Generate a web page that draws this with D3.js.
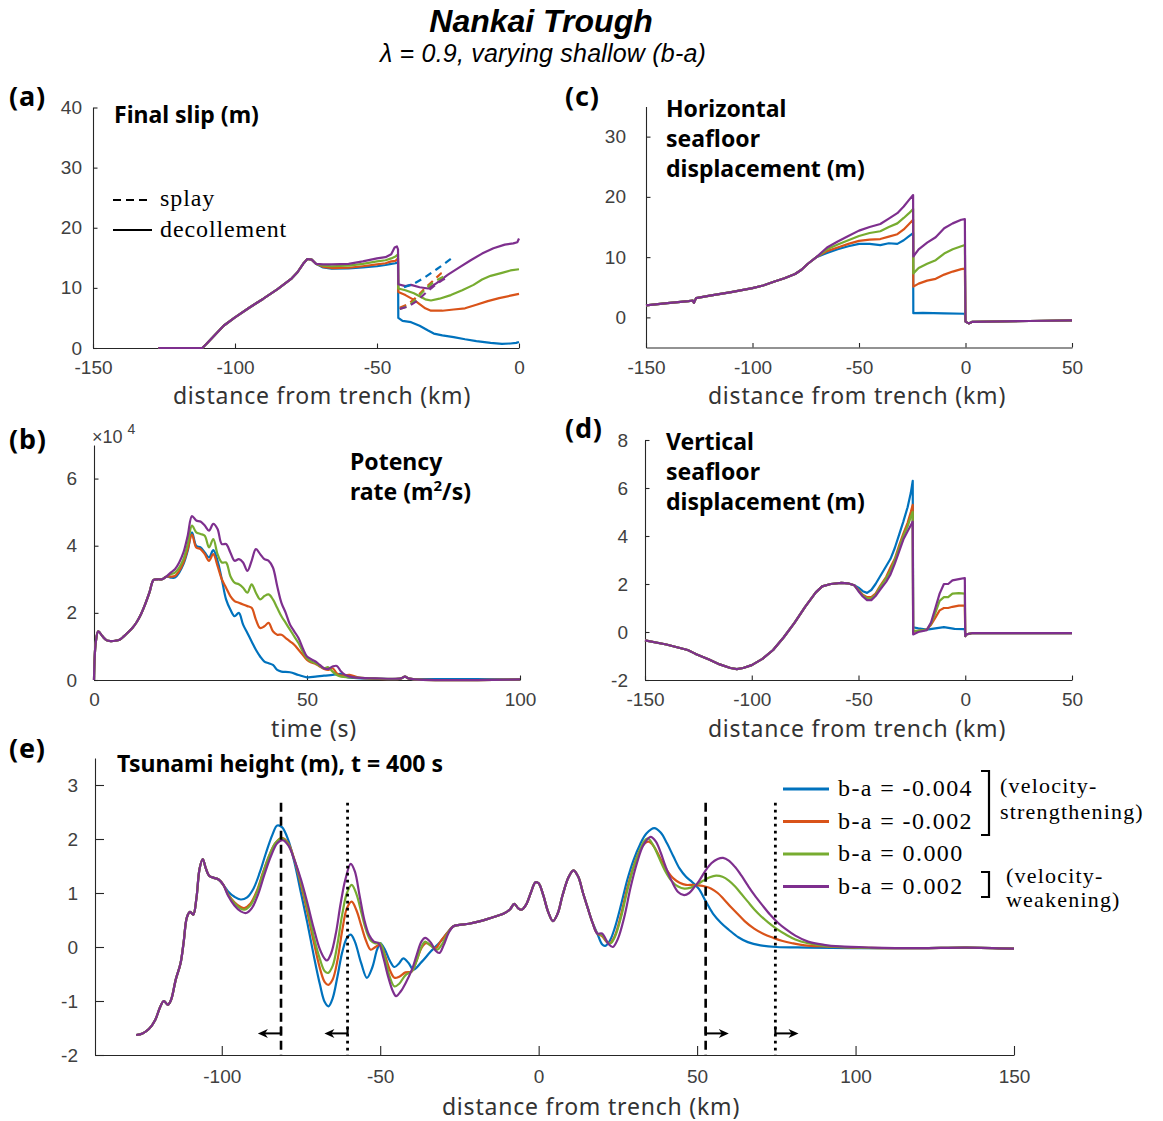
<!DOCTYPE html>
<html>
<head>
<meta charset="utf-8">
<script src="https://cdn.jsdelivr.net/npm/d3@7"></script>
<style>body{margin:0;background:#fff}</style>
</head>
<body>
<div id="fig"></div>
<script>
// ---------- data ----------
const seriesNames = ["b-a = -0.004", "b-a = -0.002", "b-a = 0.000", "b-a = 0.002"];
const colors = ["#0072BD", "#D95319", "#77AC30", "#7E2F8E"];

// (a) final slip (m) vs distance from trench (km)
const slipRise = [[-127,0],[-111.5,0],[-110,0.7],[-107,2.2],[-104,3.7],[-100,5.1],[-95,6.7],[-90,8.2],[-85,9.8],[-80,11.6],[-78,12.6],[-76,14.0],[-74.5,14.8],[-73,14.7],[-71.5,14.0]];
const slipBlue = [[-69,13.4],[-66,13.2],[-60,13.25],[-55,13.4],[-50,13.6],[-47,13.8],[-45,14.0],[-43.5,14.1],[-42.6,14.3],[-42.5,5.0],[-41,4.5],[-38,4.3],[-35,3.7],[-32,2.9],[-30,2.4],[-27,2.1],[-23,1.8],[-19,1.45],[-15,1.15],[-10,0.85],[-6,0.7],[-3,0.75],[-1,0.85],[0,1.0]];
const slipOrange = [[-69,13.5],[-66,13.3],[-60,13.35],[-55,13.6],[-50,13.9],[-47,14.1],[-45,14.4],[-43.5,14.5],[-42.6,14.9],[-42.5,9.3],[-40,8.8],[-37,8.0],[-35,7.3],[-33,6.6],[-31,6.2],[-27,6.2],[-23,6.4],[-19,6.6],[-15,7.2],[-11,7.8],[-7,8.3],[-3,8.7],[0,9.0]];
const slipGreen = [[-69,13.7],[-66,13.6],[-60,13.7],[-55,14.0],[-50,14.4],[-47,14.6],[-45,14.9],[-43.5,15.2],[-42.6,15.6],[-42.5,9.9],[-40,9.6],[-37,9.1],[-35,8.6],[-33,8.1],[-31,7.9],[-28,8.2],[-24,8.8],[-20,9.6],[-16,10.5],[-13,11.4],[-10,12.0],[-6,12.5],[-3,12.9],[0,13.1]];
const slipPurple = [[-69,13.9],[-66,13.9],[-60,14.0],[-55,14.4],[-50,14.9],[-47,15.1],[-45,15.6],[-43.8,16.7],[-43,16.9],[-42.6,16.4],[-42.5,10.6],[-40,10.3],[-38,10.5],[-35,10.1],[-32,9.9],[-29,10.8],[-25,12.2],[-21,13.4],[-17,14.6],[-13,15.7],[-9,16.6],[-5,17.2],[-2,17.4],[-0.6,17.6],[0,18.2]];
const splayBlue = [[-40.5,10.1],[-37,10.7],[-33,11.8],[-29,13.1],[-26,14.1],[-23.5,15.0]];
const splayOrange = [[-42,6.7],[-39,7.3],[-36,8.5],[-33,10.0],[-30,11.3],[-27.5,12.4],[-26.5,12.6]];
const splayGreen = [[-42,6.5],[-39,7.0],[-36,8.2],[-33,9.8],[-30,11.0],[-26,12.0],[-25,12.2]];
const splayPurple = [[-42,6.5],[-39,6.9],[-36,7.8],[-33,9.1],[-30,10.3],[-27,11.3],[-25,11.8]];

// (b) potency rate (x 10^4 m^2/s) vs time (s)
const potRise = [[0,0],[0.4,1.1],[1,1.45],[2,1.3],[3,1.18],[4,1.16],[5,1.17],[6,1.2],[7,1.3],[8,1.42],[9,1.55],[10,1.72],[11,1.95],[12,2.25],[13,2.6],[14,2.98],[15,3.0],[16,3.0],[17,3.08]];
const potBlue = [[18,3.05],[19,3.05],[20,3.2],[21,3.45],[22,3.85],[23,4.4],[24,4.0],[25,3.95],[26,3.8],[27,3.65],[28,3.87],[29,3.55],[30,3.0],[31,2.4],[32,2.1],[33,1.9],[34,2.0],[35,1.65],[36,1.4],[37,1.15],[38,0.9],[39,0.7],[40,0.55],[41,0.5],[42,0.45],[43,0.3],[44,0.25],[46,0.23],[48,0.15],[50,0.08],[52,0.1],[54,0.13],[56,0.15],[58,0.18],[59,0.1],[61,0.06],[66,0.04],[72,0.04],[73,0.1],[74,0.04],[80,0.03],[100,0.02]];
const potOrange = [[18,3.08],[19,3.1],[20,3.25],[21,3.5],[22,3.9],[23,4.33],[24,3.95],[25,3.9],[26,3.75],[27,3.55],[28,3.75],[29,3.4],[30,3.0],[31,2.75],[32,2.5],[33,2.35],[34,2.3],[35,2.25],[36,2.2],[37,2.15],[38,1.8],[39,1.55],[40,1.6],[41,1.7],[42,1.45],[43,1.35],[44,1.35],[45,1.25],[46,1.15],[47,1.05],[48,0.9],[49,0.75],[50,0.6],[51,0.52],[52,0.48],[53,0.4],[54,0.33],[55,0.3],[56,0.35],[57,0.2],[58,0.13],[60,0.15],[62,0.08],[66,0.04],[72,0.04],[73,0.1],[74,0.04],[100,0.02]];
const potGreen = [[18,3.15],[19,3.2],[20,3.35],[21,3.6],[22,4.05],[23,4.6],[24,4.4],[25,4.35],[26,4.3],[27,3.95],[28,4.2],[29,3.75],[30,3.5],[31,3.5],[32,3.1],[33,2.9],[34,2.85],[35,2.75],[36,2.6],[37,2.85],[38,2.6],[39,2.4],[40,2.5],[41,2.55],[42,2.4],[43,2.15],[44,1.9],[45,1.7],[46,1.5],[47,1.3],[48,1.1],[49,0.85],[50,0.65],[51,0.55],[52,0.5],[53,0.42],[54,0.35],[55,0.38],[56,0.25],[57,0.15],[58,0.1],[60,0.08],[66,0.04],[72,0.05],[73,0.1],[74,0.04],[100,0.02]];
const potPurple = [[18,3.2],[19,3.3],[20,3.5],[21,3.8],[22,4.3],[23,4.88],[24,4.75],[25,4.72],[26,4.6],[27,4.45],[28,4.65],[29,4.5],[30,4.05],[31,4.05],[32,3.8],[33,3.55],[34,3.6],[35,3.5],[36,3.25],[37,3.55],[38,3.9],[39,3.75],[40,3.6],[41,3.55],[42,3.35],[43,2.8],[44,2.3],[45,2.0],[46,1.65],[47,1.45],[48,1.25],[49,0.95],[50,0.7],[51,0.62],[52,0.55],[53,0.45],[54,0.35],[55,0.33],[56,0.4],[57,0.42],[58,0.25],[59,0.15],[61,0.08],[66,0.05],[72,0.05],[73,0.1],[74,0.04],[100,0.02]];

// (c) horizontal seafloor displacement (m)
const hzRise = [[-150,2.0],[-140,2.35],[-130,2.7],[-128,2.8],[-127.5,2.4],[-126.5,3.2],[-120,3.6],[-110,4.2],[-100,4.85],[-95,5.3],[-90,5.9],[-85,6.5],[-80,7.2],[-77,7.9],[-74,8.9],[-70,10.0]];
const hzBlue = [[-65,10.7],[-60,11.3],[-55,11.8],[-50,12.2],[-45,12.2],[-40,12.0],[-36,12.3],[-32,12.2],[-29,12.8],[-26.5,13.5],[-24.6,14.0],[-24.5,0.7],[-20,0.75],[-10,0.65],[-0.3,0.6]];
const hzOrange = [[-65,11.0],[-60,11.6],[-55,12.2],[-50,12.7],[-45,12.9],[-40,13.0],[-36,13.4],[-32,13.8],[-29,14.6],[-26.5,15.5],[-24.6,16.2],[-24.5,5.1],[-22,5.6],[-18,6.1],[-14,6.4],[-10,7.1],[-6,7.6],[-2,8.0],[-0.3,8.1]];
const hzGreen = [[-65,11.3],[-60,12.1],[-55,12.8],[-50,13.5],[-45,14.0],[-40,14.3],[-36,15.0],[-32,15.6],[-29,16.5],[-26.5,17.3],[-24.6,18.0],[-24.5,7.3],[-22,8.2],[-18,8.9],[-14,9.5],[-10,10.6],[-6,11.3],[-2,11.8],[-0.3,12.0]];
const hzPurple = [[-65,11.6],[-60,12.6],[-55,13.5],[-50,14.4],[-45,15.0],[-40,15.5],[-36,16.4],[-32,17.3],[-29,18.4],[-26.5,19.5],[-24.6,20.3],[-24.5,10.1],[-22,11.3],[-18,12.4],[-14,13.3],[-10,14.8],[-6,15.6],[-2,16.2],[-0.3,16.3]];
const hzTail = [[0,-0.7],[1.5,-1.0],[3,-0.75],[10,-0.7],[30,-0.6],[50,-0.5]];

// (d) vertical seafloor displacement (m)
const vzRise = [[-150,-0.35],[-140,-0.52],[-130,-0.75],[-127,-0.88],[-126,-0.93],[-120,-1.15],[-115,-1.35],[-110,-1.5],[-107,-1.55],[-104,-1.5],[-100,-1.38],[-95,-1.12],[-90,-0.75],[-85,-0.22],[-80,0.38],[-75,1.05],[-70,1.65],[-67,1.9],[-63,2.0],[-58,2.05],[-55,2.03],[-52,1.95]];
const vzBlue = [[-50,1.85],[-48,1.7],[-46,1.63],[-44,1.75],[-42,2.0],[-40,2.3],[-37,2.75],[-35,3.05],[-33,3.5],[-31,4.05],[-29,4.6],[-27,5.2],[-25.5,5.8],[-24.6,6.3],[-24.4,0.2],[-22,0.15],[-18,0.1],[-14,0.15],[-10,0.2],[-5,0.13],[-0.2,0.12]];
const vzOrange = [[-50,1.75],[-48,1.55],[-46,1.45],[-44,1.45],[-42,1.6],[-40,1.9],[-37,2.3],[-35,2.7],[-33,3.05],[-31,3.6],[-29,4.1],[-27,4.55],[-25.5,5.0],[-24.6,5.3],[-24.4,0.0],[-22,0.05],[-18,0.1],[-16,0.3],[-14,0.6],[-12,0.9],[-10,1.0],[-8,1.0],[-6,1.05],[-3,1.1],[-0.2,1.1]];
const vzGreen = [[-50,1.72],[-48,1.52],[-46,1.4],[-44,1.4],[-42,1.55],[-40,1.85],[-37,2.25],[-35,2.55],[-33,3.0],[-31,3.5],[-29,4.0],[-27,4.4],[-25.5,4.8],[-24.6,5.0],[-24.4,0.05],[-22,0.05],[-18,0.1],[-16,0.35],[-14,0.8],[-12,1.3],[-10,1.45],[-8,1.45],[-6,1.6],[-3,1.62],[-0.2,1.6]];
const vzPurple = [[-50,1.7],[-48,1.48],[-46,1.33],[-44,1.33],[-42,1.5],[-40,1.75],[-37,2.1],[-35,2.4],[-33,2.85],[-31,3.35],[-29,3.85],[-27,4.2],[-25.5,4.45],[-24.6,4.6],[-24.4,-0.1],[-22,0.0],[-18,0.08],[-16,0.4],[-14,1.0],[-12,1.6],[-10,2.0],[-8,2.0],[-6,2.15],[-3,2.2],[-0.2,2.25]];
const vzTail = [[0,-0.17],[0.5,-0.1],[3,-0.05],[50,-0.05]];

// (e) tsunami height (m) at t = 400 s
const tsStart = [[-127,-1.63],[-125,-1.6],[-123,-1.52],[-121,-1.35],[-119.5,-1.12],[-118.3,-1.0],[-117,-1.07],[-116,-0.98],[-114.5,-0.6],[-113,-0.3],[-112,0.1],[-111,0.55],[-110,0.65],[-109,0.6],[-108,0.9],[-107,1.45],[-106,1.63],[-105,1.45],[-104,1.32],[-102.5,1.28],[-101,1.25],[-99.5,1.15]];
const tsBlueLeft = [[-98,1.03],[-96,0.93],[-94,0.88],[-92,0.92],[-90,1.08],[-88,1.38],[-86,1.75],[-84,2.08],[-82.5,2.25],[-81,2.22],[-79,1.98],[-77,1.55],[-75,1.0],[-73,0.45],[-71,-0.15],[-69,-0.7],[-67.5,-1.02],[-66.3,-1.1],[-65,-0.95],[-63.5,-0.55],[-62,-0.1],[-60.5,0.17],[-59.3,0.23],[-58,0.1],[-56,-0.3],[-54.2,-0.57],[-52.5,-0.38],[-51,-0.05],[-50,0.07],[-48.5,-0.05],[-47,-0.25],[-45.5,-0.37],[-44,-0.3],[-42.7,-0.21],[-41,-0.3],[-39.5,-0.42],[-37,-0.28],[-34,-0.08],[-31,0.1],[-29,0.25]];
const tsOrangeLeft = [[-98,0.98],[-96,0.83],[-94,0.74],[-92.9,0.72],[-91,0.8],[-89,1.03],[-87,1.38],[-85,1.7],[-83,1.93],[-81,2.02],[-79,1.92],[-77,1.6],[-75,1.15],[-73,0.65],[-71,0.1],[-69,-0.4],[-67.5,-0.65],[-66.4,-0.7],[-65,-0.6],[-63.5,-0.25],[-62,0.3],[-60.5,0.72],[-59,0.84],[-57.5,0.68],[-56,0.4],[-54.5,0.12],[-53,-0.05],[-51.5,0.0],[-50,0.05],[-48.5,-0.15],[-47,-0.42],[-45.5,-0.57],[-44,-0.55],[-42,-0.47],[-40,-0.45],[-38.5,-0.25],[-37,-0.02],[-35.5,0.07],[-34,0.03],[-32.5,-0.02],[-31,0.1],[-29,0.25]];
const tsGreenLeft = [[-98,0.97],[-96,0.81],[-94,0.71],[-92.9,0.69],[-91,0.77],[-89,1.0],[-87,1.36],[-85,1.69],[-83,1.93],[-81,2.01],[-79,1.9],[-77,1.6],[-75,1.2],[-73,0.72],[-71,0.2],[-69,-0.23],[-67.5,-0.45],[-66.4,-0.48],[-65,-0.35],[-63.5,0.05],[-62,0.6],[-60.5,1.0],[-59,1.15],[-57.5,0.98],[-56,0.65],[-54.5,0.32],[-53,0.12],[-51.7,0.07],[-50,0.07],[-48.5,-0.2],[-47,-0.55],[-45.5,-0.73],[-44,-0.68],[-42,-0.52],[-40,-0.45],[-38.5,-0.25],[-37,0.0],[-35.8,0.1],[-34,0.02],[-32,-0.05],[-30.5,0.05],[-29,0.22]];
const tsPurpleLeft = [[-98,0.95],[-96,0.77],[-94,0.66],[-92.3,0.63],[-90.5,0.72],[-88.5,0.98],[-86.5,1.35],[-84.5,1.68],[-82.5,1.92],[-80.8,1.98],[-79,1.88],[-77,1.6],[-75,1.25],[-73,0.82],[-71,0.35],[-69,-0.05],[-67.5,-0.22],[-66.8,-0.25],[-65.5,-0.12],[-64,0.25],[-62.5,0.8],[-61,1.25],[-59.3,1.54],[-58,1.4],[-56.5,0.95],[-55,0.5],[-53.5,0.22],[-52,0.1],[-50.5,0.07],[-49,-0.2],[-47.5,-0.55],[-46,-0.82],[-45,-0.91],[-43.5,-0.82],[-42,-0.67],[-40,-0.42],[-38.5,-0.15],[-37,0.1],[-35.8,0.17],[-34,0.08],[-32.5,-0.07],[-31.3,-0.11],[-30,0.03],[-28.5,0.25]];
const tsMiddle = [[-27,0.38],[-25,0.41],[-22,0.43],[-19,0.47],[-16,0.52],[-13,0.58],[-11,0.62],[-9,0.7],[-7.7,0.8],[-6.5,0.72],[-5.4,0.69],[-4,0.78],[-2.5,1.0],[-1,1.2],[0,1.18],[1.5,0.95],[3,0.65],[4.5,0.48],[6,0.62],[7.5,0.95],[9.5,1.3],[11,1.42],[12.5,1.3],[14,1.0],[15.5,0.72],[17,0.45],[18.5,0.25]];
const tsBlueRight = [[20,0.05],[21,0.02],[22.5,0.12],[24,0.35],[26,0.78],[28,1.25],[30,1.62],[32,1.9],[34,2.1],[36.5,2.2],[38.5,2.12],[40.5,1.92],[42.5,1.68],[44.5,1.45],[46.5,1.3],[48.5,1.2],[50.5,1.08],[52.7,0.85],[55,0.62],[57.5,0.45],[60,0.32],[63,0.18],[66,0.09],[70,0.03],[75,0.0],[85,-0.01],[100,-0.02],[120,-0.02],[135,-0.01],[150,-0.03]];
const tsOrangeRight = [[20,0.2],[21.5,0.09],[22.5,0.07],[24,0.2],[26,0.6],[28,1.1],[30,1.5],[32,1.8],[33.5,1.92],[34.8,1.95],[36.5,1.85],[38.5,1.63],[40.5,1.42],[42.5,1.27],[44.5,1.19],[46.5,1.15],[48.5,1.15],[50.5,1.14],[52.5,1.12],[54.5,1.08],[56.5,1.0],[58.5,0.88],[60.5,0.75],[62.5,0.63],[65,0.48],[68,0.34],[71,0.24],[74,0.17],[77,0.11],[80,0.07],[84,0.03],[90,0.01],[100,-0.01],[120,-0.02],[135,-0.01],[150,-0.03]];
const tsGreenRight = [[20,0.22],[21.5,0.1],[22.7,0.07],[24,0.18],[26,0.55],[28,1.05],[30,1.48],[32,1.8],[33.3,1.96],[34.5,2.01],[36,1.9],[38,1.65],[40,1.4],[42,1.22],[44,1.12],[46,1.08],[48,1.1],[50,1.16],[52,1.23],[54,1.29],[56,1.32],[58,1.3],[60,1.23],[62,1.12],[64,0.98],[66,0.84],[68,0.7],[70,0.58],[72.5,0.45],[75,0.34],[78,0.23],[81,0.14],[85,0.07],[90,0.02],[100,-0.01],[120,-0.02],[135,-0.01],[150,-0.03]];
const tsPurpleRight = [[20,0.25],[22,0.06],[23.4,0.0],[25,0.15],[27,0.55],[29,1.1],[31,1.55],[33,1.88],[35.3,2.04],[37,1.95],[38.5,1.75],[40,1.5],[42,1.22],[44,1.02],[45.9,0.96],[47.5,1.0],[49,1.1],[50.6,1.22],[52.5,1.4],[54.5,1.55],[56.5,1.63],[58.2,1.65],[60,1.6],[62,1.48],[64,1.32],[66,1.14],[68,0.97],[70.5,0.78],[73,0.6],[75.5,0.45],[78,0.33],[81,0.21],[85,0.1],[90,0.04],[95,0.01],[105,-0.01],[120,-0.02],[135,-0.01],[150,-0.03]];

// rupture-front markers in (e)
const dashedFronts = [-81.3, 52.7];
const dottedFronts = [-60.3, 74.7];
const frontTop = 2.67;
const arrowLevel = -1.6;
const arrowLength = 7.3;

// ticks
const slipTicksX = [-150, -100, -50, 0], slipTicksY = [0, 10, 20, 30, 40];
const potTicksX = [0, 50, 100], potTicksY = [0, 2, 4, 6];
const hzTicksX = [-150, -100, -50, 0, 50], hzTicksY = [0, 10, 20, 30];
const vzTicksX = [-150, -100, -50, 0, 50], vzTicksY = [-2, 0, 2, 4, 6, 8];
const tsTicksX = [-100, -50, 0, 50, 100, 150], tsTicksY = [-2, -1, 0, 1, 2, 3];

// ---------- drawing ----------
const svg = d3.select("#fig").append("svg")
    .attr("width", 1163)
    .attr("height", 1121)
    .style("font-family", "'Noto Sans', sans-serif");

const axisColor = "#262626";
const sans = "'Liberation Sans', Arial, sans-serif";
const serif = "'Liberation Serif', 'Times New Roman', serif";

function panel(p) {
    let x = d3.scaleLinear().domain(p.xDomain).range(p.xRange);
    let y = d3.scaleLinear().domain(p.yDomain).range(p.yRange);
    let g = svg.append("g");
    let xa = g.append("g")
        .attr("transform", "translate(0," + p.yRange[0] + ")")
        .call(d3.axisBottom(x).tickValues(p.xTicks).tickFormat(d => String(d))
            .tickSize(-p.tick).tickSizeOuter(0).tickPadding(p.xPad));
    let ya = g.append("g")
        .attr("transform", "translate(" + p.xRange[0] + ",0)")
        .call(d3.axisLeft(y).tickValues(p.yTicks).tickFormat(d => String(d))
            .tickSize(-p.tick).tickSizeOuter(0).tickPadding(p.yPad));
    [xa, ya].forEach(a => {
        a.attr("font-family", sans).attr("font-size", 19);
        a.selectAll("path, line").attr("stroke", axisColor).attr("stroke-width", 1.1);
        a.selectAll("text").attr("fill", "#404040");
    });
    return {g: g, x: x, y: y};
}

function drawSeries(P, list, curve, dash) {
    let line = d3.line().x(d => P.x(d[0])).y(d => P.y(d[1])).curve(curve);
    list.forEach((s, i) => {
        P.g.append("path").datum(s)
            .attr("fill", "none")
            .attr("stroke", colors[i])
            .attr("stroke-width", 2.2)
            .attr("stroke-linejoin", "round")
            .attr("stroke-dasharray", dash || null)
            .attr("d", line);
    });
}

function label(txt, x, y, size, weight, anchor, extra) {
    let t = svg.append("text").text(txt)
        .attr("x", x).attr("y", y)
        .attr("font-size", size)
        .attr("font-weight", weight || "normal")
        .attr("text-anchor", anchor || "start")
        .attr("fill", "#000");
    if (extra) extra(t);
    return t;
}

function axisTitle(txt, x, y) {
    return label(txt, x, y, 23, "normal", "middle", t => t.attr("fill", "#333").attr("letter-spacing", 0.8));
}

function titleLines(lines, x, y0, step) {
    lines.forEach((l, i) => label(l, x, y0 + i * step, 23, "bold"));
}

// title
label("Nankai Trough", 541, 32, 32, "bold", "middle", t => t.attr("font-style", "italic").attr("font-family", sans));
label("λ = 0.9, varying shallow (b-a)", 543, 62, 25, "normal", "middle", t => t.attr("font-style", "italic").attr("font-family", sans).attr("letter-spacing", 0.2));

// panel letters
[["(a)", 9, 106], ["(b)", 9, 449], ["(c)", 565, 106], ["(d)", 565, 438], ["(e)", 9, 758]]
    .forEach(d => label(d[0], d[1], d[2], 27, "bold", "start", t => t.attr("letter-spacing", 0.8)));

// (a)
const A = panel({xDomain: [-150, 0], xRange: [93, 519], yDomain: [0, 40], yRange: [348, 107.5],
    xTicks: slipTicksX, yTicks: slipTicksY, tick: 4.5, xPad: 13, yPad: 11});
drawSeries(A, [slipRise.concat(slipBlue), slipRise.concat(slipOrange), slipRise.concat(slipGreen), slipRise.concat(slipPurple)], d3.curveLinear);
drawSeries(A, [splayBlue, splayOrange, splayGreen, splayPurple], d3.curveLinear, "7,5");
titleLines(["Final slip (m)"], 114, 123, 30);
axisTitle("distance from trench (km)", 322, 404);
// splay / decollement key
svg.append("line").attr("x1", 113).attr("x2", 152).attr("y1", 200).attr("y2", 200)
    .attr("stroke", "#000").attr("stroke-width", 2.2).attr("stroke-dasharray", "8,5");
svg.append("line").attr("x1", 113).attr("x2", 152).attr("y1", 230).attr("y2", 230)
    .attr("stroke", "#000").attr("stroke-width", 2.2);
label("splay", 160, 206, 24, "normal", "start", t => t.attr("font-family", serif).attr("letter-spacing", 0.9));
label("decollement", 160, 237, 24, "normal", "start", t => t.attr("font-family", serif).attr("letter-spacing", 0.9));

// (b)
const B = panel({xDomain: [0, 100], xRange: [94, 520], yDomain: [0, 7], yRange: [680, 445],
    xTicks: potTicksX, yTicks: potTicksY, tick: 4.5, xPad: 13, yPad: 17});
drawSeries(B, [potRise.concat(potBlue), potRise.concat(potOrange), potRise.concat(potGreen), potRise.concat(potPurple)], d3.curveCatmullRom.alpha(0.5));
let sci = svg.append("text").attr("x", 92).attr("y", 443).attr("font-family", sans)
    .attr("font-size", 18).attr("fill", "#404040");
sci.append("tspan").text("×10");
sci.append("tspan").text("4").attr("dx", 5).attr("dy", -9).attr("font-size", 14);
label("Potency", 350, 470, 23, "bold");
let rate = label("rate (m", 350, 500, 23, "bold");
rate.append("tspan").text("2").attr("font-size", 15).attr("dy", -9);
rate.append("tspan").text("/s)").attr("dy", 9);
axisTitle("time (s)", 314, 737);

// (c)
const C = panel({xDomain: [-150, 50], xRange: [646, 1072], yDomain: [-5, 35], yRange: [347.5, 106.5],
    xTicks: hzTicksX, yTicks: hzTicksY, tick: 4.5, xPad: 13, yPad: 20});
drawSeries(C, [hzRise.concat(hzBlue, hzTail), hzRise.concat(hzOrange, hzTail), hzRise.concat(hzGreen, hzTail), hzRise.concat(hzPurple, hzTail)], d3.curveLinear);
titleLines(["Horizontal", "seafloor", "displacement (m)"], 666, 117, 30);
axisTitle("distance from trench (km)", 857, 404);

// (d)
const D = panel({xDomain: [-150, 50], xRange: [645, 1072], yDomain: [-2, 8], yRange: [680, 440],
    xTicks: vzTicksX, yTicks: vzTicksY, tick: 4.5, xPad: 13, yPad: 17});
drawSeries(D, [vzRise.concat(vzBlue, vzTail), vzRise.concat(vzOrange, vzTail), vzRise.concat(vzGreen, vzTail), vzRise.concat(vzPurple, vzTail)], d3.curveLinear);
titleLines(["Vertical", "seafloor", "displacement (m)"], 666, 450, 30);
axisTitle("distance from trench (km)", 857, 737);

// (e)
const E = panel({xDomain: [-140, 150], xRange: [95, 1014], yDomain: [-2, 3.5], yRange: [1055, 758],
    xTicks: tsTicksX, yTicks: tsTicksY, tick: 9, xPad: 15, yPad: 17});
drawSeries(E, [
    tsStart.concat(tsBlueLeft, tsMiddle, tsBlueRight),
    tsStart.concat(tsOrangeLeft, tsMiddle, tsOrangeRight),
    tsStart.concat(tsGreenLeft, tsMiddle, tsGreenRight),
    tsStart.concat(tsPurpleLeft, tsMiddle, tsPurpleRight)], d3.curveCatmullRom.alpha(0.5));
label("Tsunami height (m), t = 400 s", 117, 772, 23, "bold");
axisTitle("distance from trench (km)", 591, 1115);

// front markers and arrows
function front(xv, dash, width) {
    E.g.append("line")
        .attr("x1", E.x(xv)).attr("x2", E.x(xv))
        .attr("y1", E.y(frontTop)).attr("y2", E.y(-2))
        .attr("stroke", "#000").attr("stroke-width", width)
        .attr("stroke-dasharray", dash);
    let dir = xv < 0 ? -1 : 1;
    let x0 = E.x(xv), x1 = E.x(xv + dir * arrowLength), ay = E.y(arrowLevel);
    E.g.append("line").attr("x1", x0).attr("x2", x0).attr("y1", ay - 7).attr("y2", ay + 1)
        .attr("stroke", "#000").attr("stroke-width", 2.2);
    E.g.append("line").attr("x1", x0).attr("x2", x1 - dir * 6).attr("y1", ay).attr("y2", ay)
        .attr("stroke", "#000").attr("stroke-width", 2);
    E.g.append("path")
        .attr("d", `M${x1},${ay} L${x1 - dir * 10},${ay - 4.5} L${x1 - dir * 7},${ay} L${x1 - dir * 10},${ay + 4.5} Z`)
        .attr("fill", "#000");
}
dashedFronts.forEach(v => front(v, "9,5", 2.6));
dottedFronts.forEach(v => front(v, "2.8,4.2", 2.8));

// legend for (e)
const legendY = [789, 821.5, 854, 886.5];
seriesNames.forEach((n, i) => {
    svg.append("line").attr("x1", 783).attr("x2", 829).attr("y1", legendY[i]).attr("y2", legendY[i])
        .attr("stroke", colors[i]).attr("stroke-width", 3);
    label(n, 838, legendY[i] + 7, 24, "normal", "start", t => t.attr("font-family", serif).attr("letter-spacing", 1.4));
});
svg.append("path").attr("d", "M981,771 H989 V835 H981").attr("fill", "none").attr("stroke", "#000").attr("stroke-width", 2.2);
svg.append("path").attr("d", "M981,872 H989 V897 H981").attr("fill", "none").attr("stroke", "#000").attr("stroke-width", 2.2);
label("(velocity-", 1000, 793, 22, "normal", "start", t => t.attr("font-family", serif).attr("letter-spacing", 1.2));
label("strengthening)", 1000, 819, 22, "normal", "start", t => t.attr("font-family", serif).attr("letter-spacing", 1.2));
label("(velocity-", 1006, 883, 22, "normal", "start", t => t.attr("font-family", serif).attr("letter-spacing", 1.2));
label("weakening)", 1006, 907, 22, "normal", "start", t => t.attr("font-family", serif).attr("letter-spacing", 1.2));
</script>
</body>
</html>
